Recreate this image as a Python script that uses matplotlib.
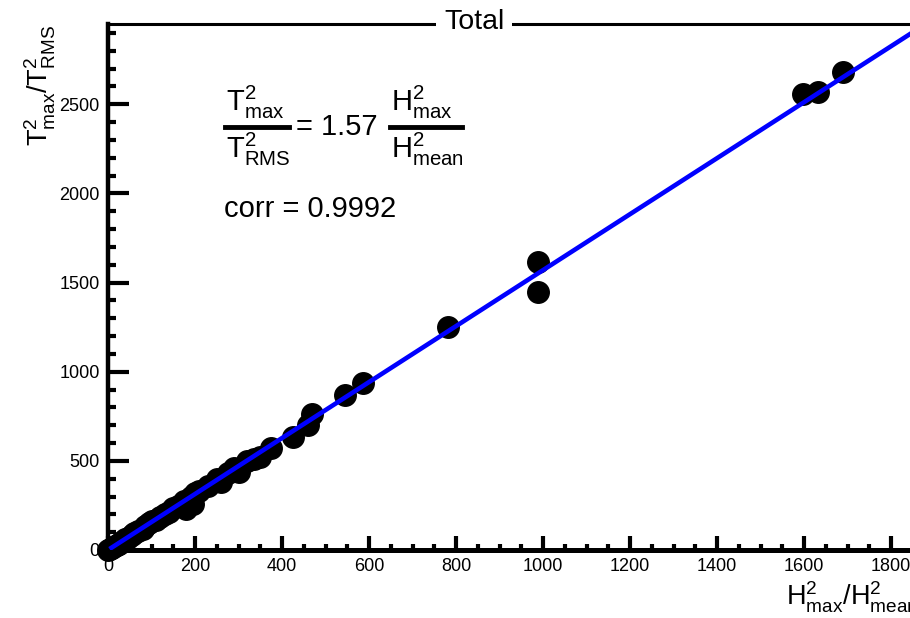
import matplotlib
matplotlib.use("Agg")
import matplotlib.pyplot as plt
from matplotlib.lines import Line2D
from matplotlib.ticker import MultipleLocator

plt.rcParams['font.family'] = ['Liberation Sans', 'DejaVu Sans']
plt.rcParams['mathtext.fontset'] = 'custom'
plt.rcParams['mathtext.rm'] = 'Liberation Sans'
plt.rcParams['mathtext.default'] = 'regular'

# valores
h_ratio = [0, 5, 10, 15, 20, 25, 30, 40, 45, 55, 60, 70, 80, 85, 95, 100, 110,
           120, 130, 140, 150, 160, 170, 175, 180, 190, 195, 200, 210, 230, 250,
           260, 275, 290, 300, 320, 335, 350, 375, 425, 460, 468, 545, 585, 782,
           988, 988, 1598, 1632, 1688]
t_ratio = [0, 5, 12, 20, 28, 35, 45, 60, 70, 85, 95, 108, 120, 135, 150, 160, 170,
           185, 200, 215, 235, 245, 255, 275, 230, 300, 260, 320, 330, 360, 400,
           380, 430, 460, 440, 500, 510, 520, 570, 633, 700, 765, 870, 938, 1250,
           1615, 1447, 2560, 2568, 2680]
slope = 1.57
fit_x = [8, 1850]
corr = 0.9992

W, H = 910, 618
fig = plt.figure(figsize=(W / 100, H / 100), dpi=100)
ax = fig.add_axes([108 / W, 1 - 550 / H, (913 - 108) / W, (550 - 24) / H])

ax.plot(h_ratio, t_ratio, 'o', color='black', ms=15.5, clip_on=False, zorder=3)
ax.plot(fit_x, [slope * v for v in fit_x], color='#0000ff', lw=3.3, zorder=4)

ax.set_xlim(0, 1850)
ax.set_ylim(0, 2950)

ax.spines['right'].set_visible(False)
ax.spines['top'].set_visible(False)
ax.spines['left'].set_linewidth(3.2)
ax.spines['bottom'].set_linewidth(3.6)

ax.xaxis.set_major_locator(MultipleLocator(200))
ax.xaxis.set_minor_locator(MultipleLocator(50))
ax.yaxis.set_major_locator(MultipleLocator(500))
ax.yaxis.set_minor_locator(MultipleLocator(100))
ax.tick_params(axis='x', which='major', direction='in', length=10, width=3, labelsize=13, pad=6)
ax.tick_params(axis='x', which='minor', direction='in', length=4, width=3)
ax.tick_params(axis='y', which='major', direction='in', length=15, width=3, labelsize=13, pad=6)
ax.tick_params(axis='y', which='minor', direction='in', length=6, width=3)

# linha de cima do quadro, interrompida pelo titulo
fig.add_artist(Line2D([108 / W, 1.0], [1 - 24 / H, 1 - 24 / H], color='black', lw=2.2))
fig.text(474 / W, 1 - 22 / H, 'Total', ha='center', va='center', fontsize=20.5,
         bbox=dict(facecolor='white', edgecolor='none', pad=6))

# rotulos dos eixos
fig.text(40 / W, 1 - 25 / H, r'$T^2_{max}/T^2_{RMS}$', rotation=90,
         ha='center', va='top', fontsize=19.5)
fig.text(918 / W, 1 - 615 / H, r'$H^2_{max}/H^2_{mean}$', ha='right', va='bottom', fontsize=19.5)

# formula do ajuste
fs = 21
fig.text(226 / W, 1 - 111 / H, r'$T^2_{max}$', ha='left', va='baseline', fontsize=fs)
fig.text(226 / W, 1 - 158 / H, r'$T^2_{RMS}$', ha='left', va='baseline', fontsize=fs)
fig.add_artist(Line2D([225 / W, 289 / W], [1 - 127 / H, 1 - 127 / H], color='black', lw=3.5))
fig.text(296 / W, 1 - 127 / H, '= %.2f' % slope, ha='left', va='center', fontsize=fs)
fig.text(391 / W, 1 - 111 / H, r'$H^2_{max}$', ha='left', va='baseline', fontsize=fs)
fig.text(391 / W, 1 - 158 / H, r'$H^2_{mean}$', ha='left', va='baseline', fontsize=fs)
fig.add_artist(Line2D([390 / W, 462 / W], [1 - 127 / H, 1 - 127 / H], color='black', lw=3.5))
fig.text(224 / W, 1 - 209 / H, 'corr = %.4f' % corr, ha='left', va='center', fontsize=fs)

fig.savefig('out.png', dpi=100)
